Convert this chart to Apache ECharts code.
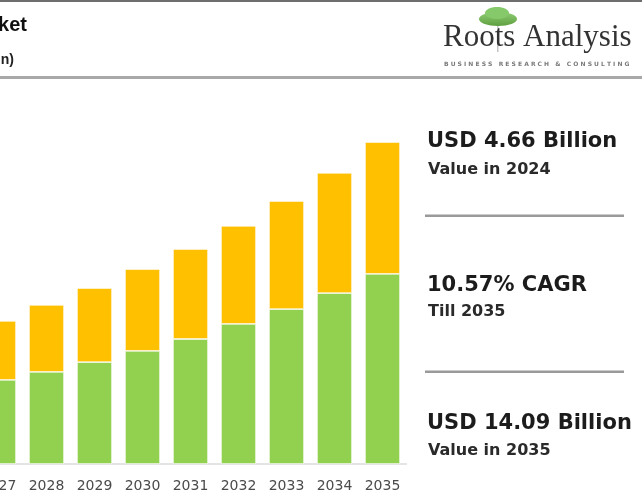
<!DOCTYPE html>
<html>
<head>
<meta charset="utf-8">
<script src="https://cdn.jsdelivr.net/npm/echarts@6/dist/echarts.min.js"></script>
<style>
html,body{margin:0;padding:0;background:#fff;}
#chart{width:642px;height:499px;}
</style>
</head>
<body>
<div id="chart"></div>
<script>
// Data (USD billion)
const years = ['2027', '2028', '2029', '2030', '2031', '2032', '2033', '2034', '2035'];
const greenValues = [3.68, 4.03, 4.46, 4.95, 5.47, 6.13, 6.78, 7.48, 8.32];
const orangeValues = [2.58, 2.93, 3.24, 3.58, 3.94, 4.29, 4.73, 5.26, 5.77];
const panelHeadlines = ['USD 4.66 Billion', '10.57% CAGR', 'USD 14.09 Billion'];
const panelSubs = ['Value in 2024', 'Till 2035', 'Value in 2035'];

const chart = echarts.init(document.getElementById('chart'), null, {renderer: 'canvas'});

const headY = [141.5, 286, 423.5];
const subY = [170, 312, 451];
const panelGraphics = [];
for (let i = 0; i < 3; i++) {
  panelGraphics.push({
    type: 'text', x: 427, y: headY[i],
    style: {text: panelHeadlines[i], fill: '#1c1c1c', font: 'bold 21px "DejaVu Sans"', verticalAlign: 'middle'}
  });
  panelGraphics.push({
    type: 'text', x: 428, y: subY[i],
    style: {text: panelSubs[i], fill: '#2a2a2a', font: 'bold 16px "DejaVu Sans"', verticalAlign: 'middle'}
  });
}

const option = {
  backgroundColor: '#ffffff',
  animation: false,
  grid: {left: -25.5, right: 235.5, top: 98.4, bottom: 35, containLabel: false, outerBoundsMode: 'none'},
  xAxis: {
    type: 'category',
    data: years,
    axisLine: {show: true, lineStyle: {color: '#dcdcdc', width: 1.5}},
    axisTick: {show: false},
    axisLabel: {color: '#4a4a4a', fontSize: 14, fontFamily: 'DejaVu Sans', margin: 15, interval: 0}
  },
  yAxis: {
    type: 'value', min: 0, max: 16, show: false,
    splitLine: {show: false}
  },
  series: [
    {
      type: 'bar', stack: 'total', data: greenValues, barWidth: 35,
      itemStyle: {color: '#92D050', borderColor: 'rgba(255,255,255,0.7)', borderWidth: 0.8}
    },
    {
      type: 'bar', stack: 'total', data: orangeValues, barWidth: 35,
      itemStyle: {color: '#FFC000', borderColor: 'rgba(255,255,255,0.7)', borderWidth: 0.8}
    }
  ],
  graphic: [
    // header frame lines
    {type: 'rect', shape: {x: 0, y: 0, width: 642, height: 2}, style: {fill: '#6e6e6e'}},
    {type: 'rect', shape: {x: 0, y: 76, width: 642, height: 3}, style: {fill: '#a8a8a8'}},
    // cropped title
    {type: 'text', x: 27, y: 25, style: {text: 'ket', fill: '#111', font: 'bold 20px "Liberation Sans"', align: 'right', verticalAlign: 'middle'}},
    {type: 'text', x: 14, y: 60, style: {text: 'n)', fill: '#222', font: 'bold 14px "Liberation Sans"', align: 'right', verticalAlign: 'middle'}},
    // logo tree
    {type: 'rect', shape: {x: 497, y: 22, width: 1.5, height: 30}, style: {fill: '#c4c4c4'}},
    {type: 'ellipse', shape: {cx: 498, cy: 19, rx: 19, ry: 7},
      style: {fill: new echarts.graphic.LinearGradient(0, 0, 0, 1, [{offset: 0, color: '#8fcd74'}, {offset: 1, color: '#5e9f3f'}])}},
    {type: 'ellipse', shape: {cx: 497, cy: 13, rx: 12, ry: 6}, style: {fill: '#86c96a'}},
    // logo text
    {type: 'text', x: 443, y: 38, style: {text: 'Roots Analysis', fill: '#333', font: '31px "Liberation Serif"', verticalAlign: 'middle'}},
    {type: 'text', x: 444, y: 64, style: {text: 'B U S I N E S S   R E S E A R C H   &   C O N S U L T I N G', fill: '#7a7a7a', font: 'bold 6px "DejaVu Sans"', verticalAlign: 'middle'}},
    // separators
    {type: 'rect', shape: {x: 425, y: 214.5, width: 199, height: 2.5}, style: {fill: '#9a9a9a'}},
    {type: 'rect', shape: {x: 425, y: 370.5, width: 199, height: 2.5}, style: {fill: '#9a9a9a'}}
  ].concat(panelGraphics)
};
chart.setOption(option);
</script>
</body>
</html>
